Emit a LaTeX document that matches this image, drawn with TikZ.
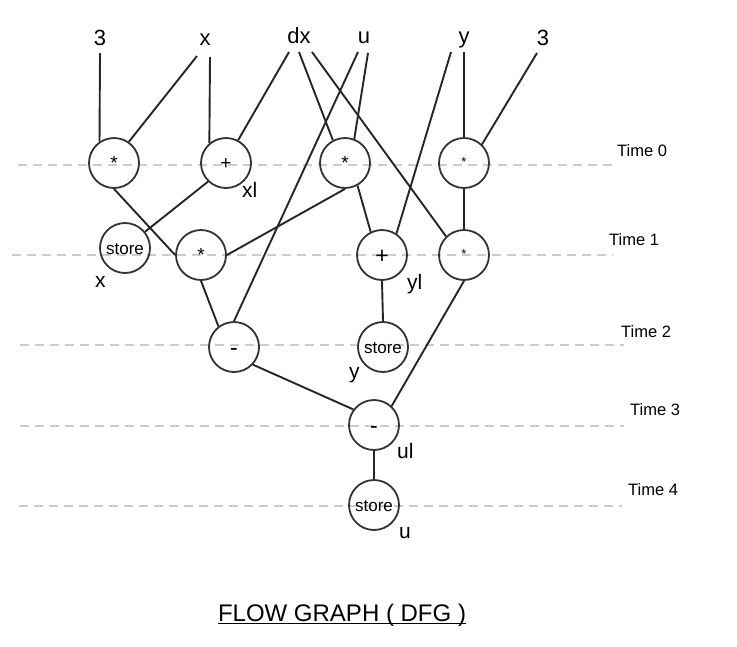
\documentclass[tikz,border=0pt]{standalone}
\usepackage{fontspec}
\setmainfont{Liberation Sans}

\tikzset{
  opnode/.style={circle, draw=black!80, line width=1.8pt, minimum size=50pt, inner sep=0pt, text depth=0pt},
  wire/.style={draw=black!85, line width=1.9pt},
  timeline/.style={draw=black!20, line width=1.6pt, dash pattern=on 9pt off 6pt},
  invar/.style={anchor=base, inner sep=0pt, font=\fontsize{22}{26}\selectfont},
  outvar/.style={anchor=base west, inner sep=0pt, font=\fontsize{21}{25}\selectfont},
  timelbl/.style={anchor=base west, inner sep=0pt, font=\fontsize{16.5}{20}\selectfont},
  bigsym/.style={font=\fontsize{23}{25}\selectfont, text height=16.5pt},
  midsym/.style={font=\fontsize{19}{21}\selectfont, text height=13.2pt},
  tinysym/.style={font=\fontsize{13}{15}\selectfont, text height=6.5pt},
  storesym/.style={font=\fontsize{17}{19}\selectfont, text height=12.2pt},
}

\begin{document}
\begin{tikzpicture}[x=1pt, y=-1pt]
    \useasboundingbox (0,0) rectangle (737,646);

    % time steps
    \draw[timeline] (18,165) -- (618,165); % Time 0
    \draw[timeline] (12,255) -- (613,255); % Time 1
    \draw[timeline] (20,345) -- (624,345); % Time 2
    \draw[timeline] (20,426) -- (624,426); % Time 3
    \draw[timeline] (19,506) -- (622,506); % Time 4

    \node[timelbl] (t0) at (617,156) {Time 0};
    \node[timelbl] (t1) at (609,245) {Time 1};
    \node[timelbl] (t2) at (621,337) {Time 2};
    \node[timelbl] (t3) at (630,415) {Time 3};
    \node[timelbl] (t4) at (628,495) {Time 4};

    % inputs
    \node[invar] (in3a) at (100,45) {3};
    \node[invar] (inx) at (205,45) {x};
    \node[invar] (indx) at (299,43) {dx};
    \node[invar] (inu) at (364,43) {u};
    \node[invar] (iny) at (464,43) {y};
    \node[invar] (in3b) at (543,45) {3};

    % operations
    \node[opnode, midsym] (m1) at (114,163) {*};
    \node[opnode, midsym] (a1) at (226,163) {+};
    \node[opnode, midsym] (m2) at (345,163) {*};
    \node[opnode, tinysym] (m4) at (464,163) {*};
    \node[opnode, storesym] (stx) at (125,248) {store};
    \node[opnode, midsym] (m3) at (201,255) {*};
    \node[opnode, bigsym] (a2) at (382,255) {+};
    \node[opnode, tinysym] (m5) at (464,255) {*};
    \node[opnode, bigsym] (s1) at (234,347) {-};
    \node[opnode, storesym] (sty) at (383,347) {store};
    \node[opnode, bigsym] (s2) at (374,425) {-};
    \node[opnode, storesym] (stu) at (374,505) {store};

    % results
    \node[outvar] (lxl) at (242,197) {xl};
    \node[outvar] (lx) at (95,287) {x};
    \node[outvar] (lyl) at (407,289) {yl};
    \node[outvar] (ly) at (349,378) {y};
    \node[outvar] (lul) at (397,458) {ul};
    \node[outvar] (lu) at (399,538) {u};

    % data flow
    \draw[wire] ([yshift=-8pt]in3a.base) -- (m1.124);
    \draw[wire] ([xshift=-8pt,yshift=-11pt]inx.base) -- (m1.55);
    \draw[wire] ([xshift=5pt,yshift=-12pt]inx.base) -- (a1.130);
    \draw[wire] ([xshift=-10pt,yshift=-9pt]indx.base) -- (a1.62);
    \draw[wire] ([yshift=-9pt]indx.base) -- (m2.118);
    \draw[wire] ([xshift=13pt,yshift=-9pt]indx.base) -- (m5.134);
    \draw[wire] ([xshift=-6pt,yshift=-9pt]inu.base) -- (s1.north);
    \draw[wire] ([xshift=4pt,yshift=-10pt]inu.base) -- (m2.69);
    \draw[wire] ([xshift=-13pt,yshift=-9pt]iny.base) -- (a2.56);
    \draw[wire] ([yshift=-9pt]iny.base) -- (m4.north);
    \draw[wire] ([xshift=-6pt,yshift=-8pt]in3b.base) -- (m4.46);

    \draw[wire] (m1.south) -- (m3.west);
    \draw[wire] (a1.226) -- (stx.39);
    \draw[wire] (m2.south) -- (m3.east);
    \draw[wire] (m2.299) -- (a2.116);
    \draw[wire] (m4.south) -- (m5.north);
    \draw[wire] (a2.south) -- (sty.north);
    \draw[wire] (m3.south) -- (s1.127);
    \draw[wire] (s1.317) -- (s2.143);
    \draw[wire] (m5.south) -- (s2.47);
    \draw[wire] (s2.south) -- (stu.north);

    % caption
    \node[anchor=base, inner sep=0pt, font=\fontsize{24}{28}\selectfont] (title) at (342,621) {FLOW GRAPH ( DFG )};
    \draw[line width=1.2pt] ([yshift=-2.5pt]title.base west) -- ([yshift=-2.5pt]title.base east);
\end{tikzpicture}
\end{document}
